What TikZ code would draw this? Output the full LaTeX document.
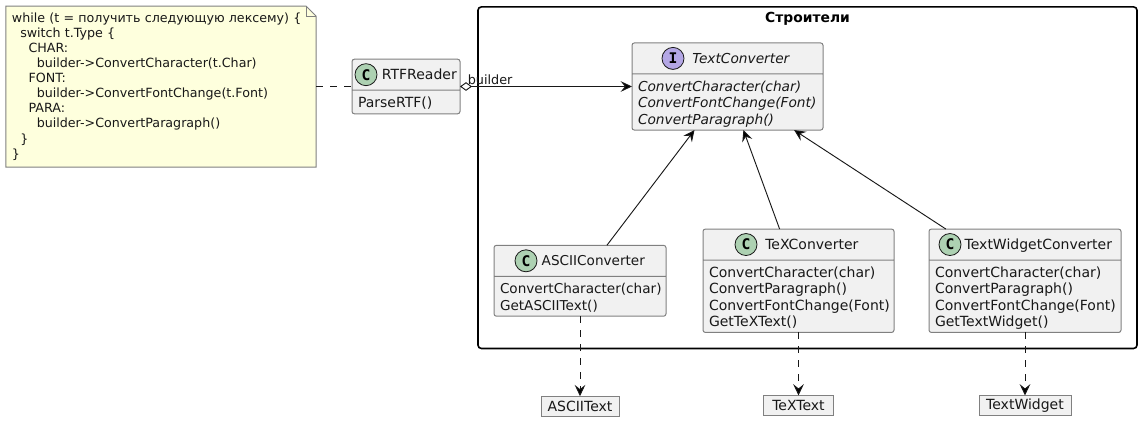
\documentclass[tikz,border=0pt]{standalone}
\usepackage{fontspec}
\setmainfont{DejaVu Sans}
\setmonofont{DejaVu Sans Mono}
\usepackage{xcolor}
\definecolor{ink}{HTML}{181818}
\definecolor{edge}{HTML}{808080}
\definecolor{shell}{HTML}{F1F1F1}
\definecolor{memo}{HTML}{FEFFDD}
\definecolor{spotc}{HTML}{ADD1B2}
\definecolor{spoti}{HTML}{B4A7E5}
\usetikzlibrary{arrows.meta,positioning,fit,calc,shapes.multipart,backgrounds}
\newcommand{\ind}[1]{\hspace*{#1pt}}
\newcommand{\headline}[1]{\hspace*{20pt}\rule[-5pt]{0pt}{17.65pt}#1}
\newcommand{\member}[1]{\hspace*{3pt}\strut\raisebox{-1.9pt}[0pt][0pt]{#1}}
\tikzset{
  font=\fontsize{10.5}{12.2}\selectfont,
  every node/.style={outer sep=0pt},
  cls/.style={draw=edge,line width=0.75pt,rounded corners=1.8pt,fill=shell,text=ink,align=left,
              inner xsep=1.5pt,inner ysep=2.4pt,rectangle split,rectangle split parts=2,
              rectangle split part align={center,left}},
  spot/.style={circle,draw=ink,line width=0.6pt,minimum size=16.5pt,inner sep=0pt,
               font=\fontsize{11}{12}\ttfamily\bfseries,text=black},
  databox/.style={draw=edge,line width=0.75pt,fill=shell,text=ink,inner sep=0pt,minimum height=15pt},
  memotext/.style={align=left,text=ink,inner sep=0pt,minimum width=232.5pt,minimum height=120.75pt,
                   font=\fontsize{9.5}{11.3}\selectfont,text width=223.5pt},
  memobox/.style={draw=edge,line width=0.75pt,fill=memo},
  lane/.style={draw=black,line width=1.2pt,rounded corners=2.5pt},
  lanetitle/.style={font=\fontsize{10.4}{12}\selectfont\bfseries,text=black,inner sep=0pt},
  flow/.style={-{Stealth[length=8.5pt,width=8pt,inset=3.2pt]},line width=0.7pt,draw=ink},
  dep/.style={flow,dash pattern=on 5.25pt off 5.25pt},
  memolink/.style={draw=ink,line width=0.7pt,dash pattern=on 5.25pt off 5.25pt},
  lbl/.style={font=\fontsize{9.6}{12}\selectfont,text=ink,inner sep=1pt},
}

\begin{document}
\begin{tikzpicture}
  \node[memotext] (note) {while (t = получить следующую лексему) \{\\
    \ind{6.2}switch t.Type \{\\
    \ind{12.4}CHAR:\\
    \ind{18.6}builder->ConvertCharacter(t.Char)\\
    \ind{12.4}FONT:\\
    \ind{18.6}builder->ConvertFontChange(t.Font)\\
    \ind{12.4}PARA:\\
    \ind{18.6}builder->ConvertParagraph()\\
    \ind{6.2}\}\\
    \}};
  \useasboundingbox ($(note.north west)+(-4.5pt,4.5pt)$) rectangle +(856.5pt,-316.5pt);

  \node[cls,minimum width=81pt,right=27pt of note] (rtf) {\headline{RTFReader}\nodepart{two}
    \member{ParseRTF()}};
  \node[cls,minimum width=143.25pt,right=129pt of rtf,font=\fontsize{10.3}{12.2}\selectfont\itshape] (tc) {\headline{TextConverter}\nodepart{two}
    \member{ConvertCharacter(char)}\\\member{ConvertFontChange(Font)}\\\member{ConvertParagraph()}};

  \node[cls,minimum width=143.25pt,below=74.25pt of tc,xshift=53.25pt] (tex) {\headline{TeXConverter}\nodepart{two}
    \member{ConvertCharacter(char)}\\\member{ConvertParagraph()}\\\member{ConvertFontChange(Font)}\\\member{GetTeXText()}};
  \node[cls,minimum width=129pt,left=27.75pt of tex,font=\fontsize{10.2}{12.2}\selectfont] (ascii) {\headline{ASCIIConverter}\nodepart{two}
    \member{ConvertCharacter(char)}\\\member{GetASCIIText()}};
  \node[cls,minimum width=144pt,right=26.25pt of tex] (widget) {\headline{TextWidgetConverter}\nodepart{two}
    \member{ConvertCharacter(char)}\\\member{ConvertParagraph()}\\\member{ConvertFontChange(Font)}\\\member{GetTextWidget()}};

  \node[databox,minimum width=58.5pt,below=60pt of ascii] (asciitext) {ASCIIText};
  \node[databox,minimum width=52.5pt,below=47.25pt of tex] (textext) {TeXText};
  \node[databox,minimum width=69pt,below=47.25pt of widget] (textwidget) {TextWidget};

  \foreach \cname/\cx/\cletter/\cfill in {rtf/10.5/C/spotc,tc/30.75/I/spoti,ascii/24/C/spotc,tex/32.25/C/spotc,widget/15.75/C/spotc}
    \node[spot,fill=\cfill] (\cname spot) at ($(\cname.north west)+(\cx pt,-11.6pt)$) {\cletter};

  \coordinate (lanetop) at ($(tc.north)+(0,15pt)$);
  \begin{scope}[on background layer]
    \node[lane,inner sep=12pt,fit=(lanetop)(ascii)(tex)(widget)] (builders) {};
    \draw[memobox] (note.north west) -- ($(note.north east)+(-7.5pt,0)$) -- ($(note.north east)+(0,-7.5pt)$)
      -- (note.south east) -- (note.south west) -- cycle;
    \draw[memobox,fill=none] ($(note.north east)+(-7.5pt,0)$) |- ($(note.north east)+(0,-7.5pt)$);
  \end{scope}
  \node[lanetitle,below=4pt of builders.north] (builderstitle) {Строители};

  \draw[memolink] (note) -- (rtf);
  \draw[flow,{Diamond[open,length=9pt,width=6.5pt]}-{Stealth[length=8.5pt,width=8pt,inset=3.2pt]}] (rtf) -- node[lbl,above,pos=0.175]{builder} (tc);
  \draw[flow] (ascii) -- (tc);
  \draw[flow] (tex) -- (tc);
  \draw[flow] (widget) -- (tc);
  \draw[dep] (ascii) -- (asciitext);
  \draw[dep] (tex) -- (textext);
  \draw[dep] (widget) -- (textwidget);
\end{tikzpicture}
\end{document}
